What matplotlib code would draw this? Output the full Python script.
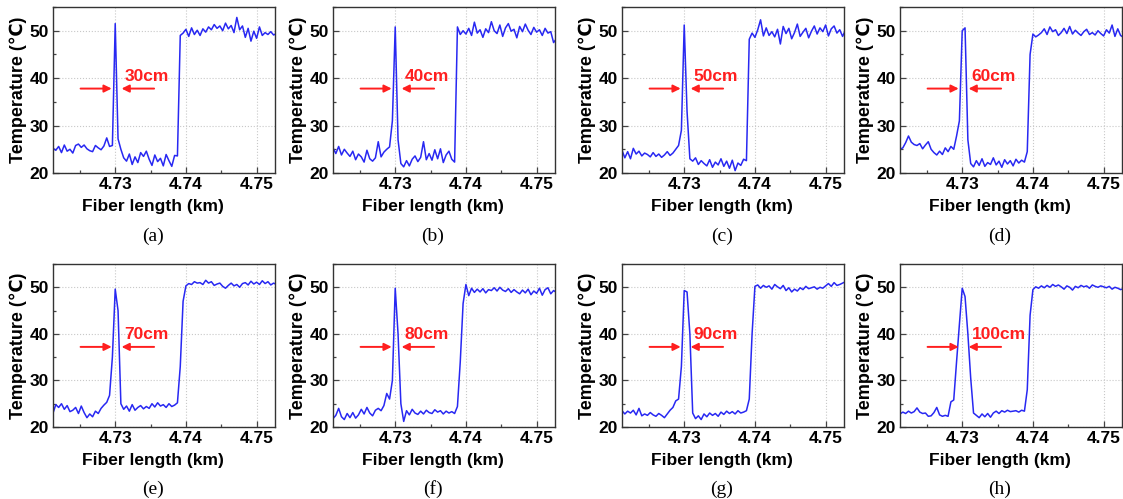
import matplotlib.pyplot as plt
import numpy as np
from matplotlib.ticker import MultipleLocator

plt.rcParams['font.family'] = ['Liberation Sans', 'DejaVu Sans']
plt.rcParams['font.weight'] = 'bold'

# sampling of the traces (km)
start_km = 4.7212
step_km = 0.0004

panel_tags = ['(a)', '(b)', '(c)', '(d)', '(e)', '(f)', '(g)', '(h)']
width_labels = ['30cm', '40cm', '50cm', '60cm', '70cm', '80cm', '90cm', '100cm']

temp_a = [25.2, 24.8, 25.6, 24.3, 25.9, 24.6, 25.0, 24.2, 25.8, 26.1, 25.4, 25.9, 25.1, 24.7, 24.5, 25.8, 25.3, 24.9, 25.7, 27.4, 25.6,
          25.8, 51.5, 27.2,
          25.0, 23.2, 22.5, 24.0, 21.8, 23.4, 22.2, 24.3, 23.5, 24.6, 22.9, 21.6, 23.8, 22.4, 23.1, 21.5, 23.9, 22.6, 21.4, 23.7, 23.6,
          49.0, 49.5, 50.3, 48.8, 50.6, 49.2, 50.1, 49.0, 50.4, 49.7, 50.8, 50.2, 51.3, 50.5, 51.0, 50.0, 51.6, 50.4, 51.1, 49.6,
          52.8, 50.2, 51.0, 48.6, 50.5, 47.8, 49.9, 48.4, 50.8, 49.0, 49.6, 49.2, 49.8, 49.1, 49.4]
temp_b = [25.3, 24.1, 25.6, 23.8, 25.0, 24.2, 23.5, 24.6, 22.8, 24.0, 23.4, 22.3, 24.8, 23.0, 22.5, 23.2, 26.6, 23.4, 24.4, 25.0,
          25.5, 31.0, 50.8, 27.0,
          22.0, 21.3, 22.6, 21.5, 22.9, 23.6, 22.4, 23.3, 26.6, 22.8, 24.1, 22.7, 24.9, 23.0, 25.1, 22.2, 23.8, 24.6, 22.9, 22.3,
          50.8, 49.2, 50.0, 49.3, 50.5, 49.0, 51.8, 49.5, 50.2, 48.6, 50.4, 49.6, 51.9, 50.0, 49.4, 51.2, 48.8, 50.6, 51.5, 49.9,
          50.3, 48.5, 50.9, 49.8, 51.4, 50.1, 49.2, 50.7, 49.7, 50.2, 49.0, 50.5, 49.5, 49.8, 47.5, 48.3]
temp_c = [24.8, 23.2, 24.5, 23.0, 25.2, 24.0, 24.6, 23.6, 24.2, 23.9, 23.4, 24.3, 23.5, 24.0, 23.3, 23.8, 24.5, 23.7, 24.2, 25.0, 25.8,
          29.0, 51.2, 33.0, 23.0,
          22.5, 23.2, 21.8, 22.6, 22.0, 21.5, 22.8, 21.2, 22.3, 21.7, 23.0, 21.4, 22.5, 21.0, 22.7, 20.5, 22.1, 21.6, 22.9, 22.6,
          48.2, 49.5, 48.6, 50.2, 52.3, 48.9, 50.6, 49.0, 49.8, 48.7, 50.3, 47.2, 50.9, 49.4, 50.5, 48.3, 49.6, 51.4, 48.8, 49.7,
          50.5, 48.5, 49.9, 51.0, 49.3, 50.6, 49.8, 51.2, 48.9, 50.4, 51.0, 49.5, 50.2, 48.8, 50.1]
temp_d = [25.0, 25.3, 26.4, 27.8, 26.5, 26.0, 25.8, 26.2, 25.1, 25.9, 26.6, 25.0, 24.3, 23.8, 24.6, 23.9, 25.3, 24.5, 25.6, 25.0, 27.8,
          31.0, 50.0, 50.6, 27.0,
          22.0, 21.3, 22.6, 21.6, 23.0, 21.4, 22.2, 21.8, 23.2, 21.7, 22.5, 21.2, 22.8, 21.9, 22.6, 21.5, 22.9, 22.1, 22.7, 22.3,
          24.5, 45.0,
          49.3, 48.7, 49.1, 49.6, 50.4, 49.2, 50.8, 49.8, 50.2, 49.0, 49.6, 50.5, 49.4, 50.9, 49.3, 50.1, 49.5, 49.0, 49.8, 50.3,
          49.2, 49.6, 49.1, 50.0, 49.4, 48.9, 50.2, 49.5, 51.2, 48.8, 50.4, 49.0, 48.6]
temp_e = [23.0, 24.8, 24.2, 25.0, 23.8, 24.6, 23.3, 23.6, 24.2, 22.9, 24.5, 23.1, 22.0, 22.8, 22.2, 23.4, 22.9, 24.0, 24.7, 25.3, 26.8,
          35.0, 49.6, 45.0, 25.0,
          23.8, 24.5, 23.4, 24.8, 23.6, 24.2, 24.6, 23.9, 24.4, 24.0, 25.0, 24.3, 25.2, 24.5, 24.8, 24.2, 25.0, 24.4, 24.7, 25.2,
          33.0, 47.0,
          50.3, 50.8, 50.6, 51.2, 50.9, 51.0, 50.6, 51.5, 50.9, 51.2, 50.4, 50.7, 50.9, 50.2, 49.8, 50.4, 50.9, 50.3, 50.6, 50.0,
          50.8, 51.0, 50.5, 51.3, 50.7, 51.1, 50.6, 51.4, 50.8, 51.2, 50.5, 50.9, 50.6]
temp_f = [21.8, 22.5, 24.0, 22.2, 21.6, 22.9, 22.0, 23.1, 21.9, 22.6, 23.8, 22.8, 24.2, 23.0, 22.4, 23.6, 24.0, 23.5, 24.6,
          27.2, 26.0, 30.0, 49.8, 40.0, 25.0, 21.2,
          23.5, 22.6, 23.8, 23.0, 22.7, 23.4, 22.8, 23.6, 23.1, 22.9, 23.7, 23.2, 23.5, 22.8, 23.4, 23.0, 23.3, 22.9, 24.4,
          34.0, 46.5,
          50.6, 48.2, 49.8, 48.9, 49.6, 49.0, 49.7, 48.8, 49.5, 49.3, 49.9, 49.2, 50.0, 49.4, 49.1, 49.7, 48.9, 49.5, 49.0, 48.6,
          49.4, 48.8, 49.6, 48.4, 49.2, 48.7, 49.8, 48.3, 49.5, 49.9, 48.6, 49.3, 48.9]
temp_g = [23.5, 22.8, 23.4, 23.0, 23.6, 22.6, 24.0, 22.4, 22.8, 22.5, 23.1, 22.6, 22.3, 22.9, 22.5, 22.0, 22.8, 23.6, 24.2,
          25.6, 26.0, 33.0, 49.3, 49.0, 40.0, 23.0,
          21.8, 22.4, 21.6, 22.8, 22.2, 23.0, 22.5, 22.9, 22.3, 23.2, 22.7, 23.4, 22.9, 23.3, 22.8, 23.5, 23.0, 23.2, 23.5,
          26.0, 40.0,
          50.2, 50.5, 49.8, 50.4, 50.0, 50.3, 49.6, 50.6, 50.1, 49.7, 50.4, 49.3, 49.9, 49.0, 49.6, 49.2, 49.9, 49.5, 50.2, 49.7,
          49.9, 50.1, 49.6, 50.0, 49.8, 50.3, 50.8, 50.2, 51.0, 50.4, 50.6, 50.9, 51.2]
temp_h = [22.8, 23.2, 22.9, 23.4, 23.0, 23.3, 24.1, 23.2, 22.9, 23.0, 22.3, 22.4, 23.1, 24.2, 22.6, 22.3, 22.5, 22.3,
          25.4, 25.8, 34.0, 42.0, 49.8, 48.0, 40.0, 30.5, 23.0,
          22.5, 22.0, 22.8, 22.2, 22.9, 22.1, 23.0, 23.4, 22.9, 23.5, 23.2, 23.6, 23.3, 23.4, 23.5, 23.2, 23.6, 23.4,
          28.0, 44.0,
          49.5, 50.1, 49.8, 50.3, 49.9, 50.4, 50.0, 50.6, 50.2, 50.5, 50.1, 49.6, 50.3, 50.0, 49.4, 50.2, 49.9, 50.4, 50.1, 50.3,
          49.8, 50.5, 50.2, 50.0, 50.3, 50.1, 49.9, 50.2, 49.6, 50.0, 49.8, 49.5, 49.7]

traces = [temp_a, temp_b, temp_c, temp_d, temp_e, temp_f, temp_g, temp_h]

W, H = 1123, 499
col_left = [53, 333, 622, 900]
ax_w = 222
row_box = [(7, 173), (264, 427)]
caption_y = [236, 489]
arrow_y = [37.8, 37.2]
red = '#ff1f1f'

fig = plt.figure(figsize=(W / 100, H / 100), dpi=100)

for k, temps in enumerate(traces):
    r, c = divmod(k, 4)
    top, bot = row_box[r]
    ax = fig.add_axes([col_left[c] / W, 1 - bot / H, ax_w / W, (bot - top) / H])
    x = start_km + step_km * np.arange(len(temps))
    ax.plot(x, temps, color='#2828f2', lw=1.1)

    ax.set_xlim(4.7212, 4.7526)
    ax.set_ylim(20, 55)
    ax.set_xticks([4.73, 4.74, 4.75])
    ax.set_yticks([20, 30, 40, 50])
    ax.xaxis.set_minor_locator(MultipleLocator(0.005))
    ax.yaxis.set_minor_locator(MultipleLocator(5))
    ax.tick_params(which='both', direction='in', labelsize=12.5, width=0.9, color='#444444')
    ax.tick_params(axis='x', pad=3)
    ax.tick_params(axis='y', pad=3)
    ax.tick_params(which='major', length=4)
    ax.tick_params(which='minor', length=2.5)
    ax.grid(True, which='major', color='#c8c8c8', ls=':', lw=0.8)
    for sp in ax.spines.values():
        sp.set_color('#333333')
        sp.set_linewidth(1.0)

    ax.set_xlabel('Fiber length (km)', fontsize=12.5, fontweight='bold')
    ax.xaxis.set_label_coords(0.45, -0.155 if r == 0 else -0.16)
    ax.set_ylabel('Temperature (℃)', fontsize=13, fontweight='bold', labelpad=2)

    # width markers
    ay = arrow_y[r]
    ap = dict(arrowstyle='-|>', color=red, lw=1.4, mutation_scale=11, shrinkA=0, shrinkB=0)
    ax.annotate('', xy=(4.7295, ay), xytext=(4.7251, ay), arrowprops=ap)
    ax.annotate('', xy=(4.7309, ay), xytext=(4.7355, ay), arrowprops=ap)
    ax.text(4.7313, ay + 2.6, width_labels[k], color=red, fontsize=12.5,
            fontweight='bold', ha='left', va='center')

    fig.text((col_left[c] + 0.45 * ax_w) / W, 1 - caption_y[r] / H, panel_tags[k],
             family='Liberation Serif', fontweight='normal', fontsize=14,
             ha='center', va='center')

fig.savefig('out.png', dpi=100)
